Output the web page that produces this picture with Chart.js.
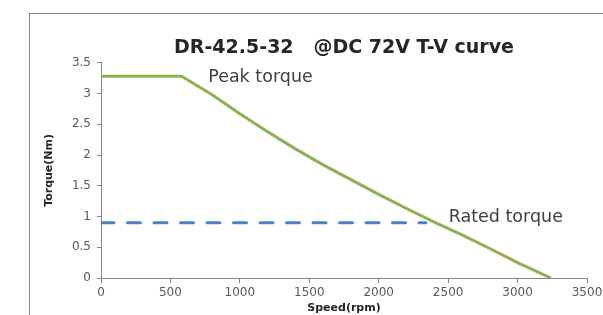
<!DOCTYPE html>
<html>
<head>
<meta charset="utf-8">
<script src="https://cdn.jsdelivr.net/npm/chart.js@4/dist/chart.umd.min.js"></script>
<style>
  body { margin: 0; background: #fff; }
  #wrap { position: relative; width: 603px; height: 315px; overflow: hidden; }
  #frame { position: absolute; left: 29px; top: 13px; width: 700px; height: 400px; border: 1px solid #8a8a8a; }
  canvas { position: absolute; left: 0; top: 0; }
</style>
</head>
<body>
<div id="wrap">
  <div id="frame"></div>
  <canvas id="myChart" width="603" height="315"></canvas>
</div>
<script>
// peak torque curve (rpm -> Nm)
var speed = [0, 580, 800, 1000, 1200, 1400, 1600, 1800, 2000, 2200, 2400, 2600, 2800, 3000, 3240];
var torque = [3.28, 3.28, 2.98, 2.67, 2.38, 2.10, 1.84, 1.60, 1.36, 1.13, 0.91, 0.70, 0.48, 0.25, 0];
// rated torque line
var ratedSpeed = [0, 2340];
var ratedTorque = [0.9, 0.9];

var FONT = "'Century Gothic', 'URW Gothic', 'DejaVu Sans', sans-serif";

function pts(xs, ys) {
  return xs.map(function (x, i) { return { x: x, y: ys[i] }; });
}

// text labels placed at data positions
var notes = [
  { text: 'Peak torque', x: 772, y: 3.26 },
  { text: 'Rated torque', x: 2504, y: 0.99 }
];

var notePlugin = {
  id: 'notes',
  afterDatasetsDraw: function (chart) {
    var c = chart.ctx;
    c.save();
    c.font = '17.5px ' + FONT;
    c.fillStyle = '#404040';
    c.textBaseline = 'middle';
    notes.forEach(function (n) {
      c.fillText(n.text, chart.scales.x.getPixelForValue(n.x), chart.scales.y.getPixelForValue(n.y));
    });
    c.restore();
  }
};

function plain(v) { return String(Number(v.toFixed(1))); }

var ctx = document.getElementById('myChart').getContext('2d');
var myChart = new Chart(ctx, {
  type: 'scatter',
  data: {
    datasets: [{
      label: 'Peak torque',
      data: pts(speed, torque),
      showLine: true,
      borderColor: '#8cb052',
      borderWidth: 3,
      pointRadius: 0,
      tension: 0
    }, {
      label: 'Rated torque',
      data: pts(ratedSpeed, ratedTorque),
      showLine: true,
      borderColor: '#4f81bd',
      borderWidth: 3,
      borderDash: [13, 13.5],
      borderCapStyle: 'round',
      pointRadius: 0
    }]
  },
  options: {
    responsive: false,
    animation: false,
    layout: { padding: { left: 0, right: 0, top: 0, bottom: 0 } },
    plugins: {
      legend: { display: false },
      tooltip: { enabled: false },
      //Chart title
      title: {
        display: true,
        fullSize: false,
        text: 'DR-42.5-32   @DC 72V T-V curve',
        color: '#262626',
        font: { family: FONT, size: 19, weight: 'bold' },
        padding: { top: 37, bottom: 3 }
      }
    },
    scales: {
      x: {
        type: 'linear',
        min: 0,
        max: 3500,
        ticks: { stepSize: 500, color: '#595959', font: { family: FONT, size: 12 }, padding: 3, maxRotation: 0, callback: plain },
        grid: { drawOnChartArea: false, tickLength: 5, color: '#868686' },
        border: { color: '#868686' },
        title: { display: true, text: 'Speed(rpm)', color: '#262626', font: { family: FONT, size: 11, weight: 'bold' }, padding: { top: 4, bottom: 0 } },
        afterFit: function (s) { s.height = 37; s.paddingRight = 16; }
      },
      y: {
        min: 0,
        max: 3.5,
        ticks: { stepSize: 0.5, color: '#595959', font: { family: FONT, size: 12 }, padding: 6, callback: plain },
        grid: { drawOnChartArea: false, tickLength: 4, color: '#868686' },
        border: { color: '#868686' },
        title: { display: true, text: 'Torque(Nm)', color: '#262626', font: { family: FONT, size: 11, weight: 'bold' }, padding: { top: 43, bottom: 0 } },
        afterFit: function (s) { s.width = 101; }
      }
    }
  },
  plugins: [notePlugin]
});
</script>
</body>
</html>
